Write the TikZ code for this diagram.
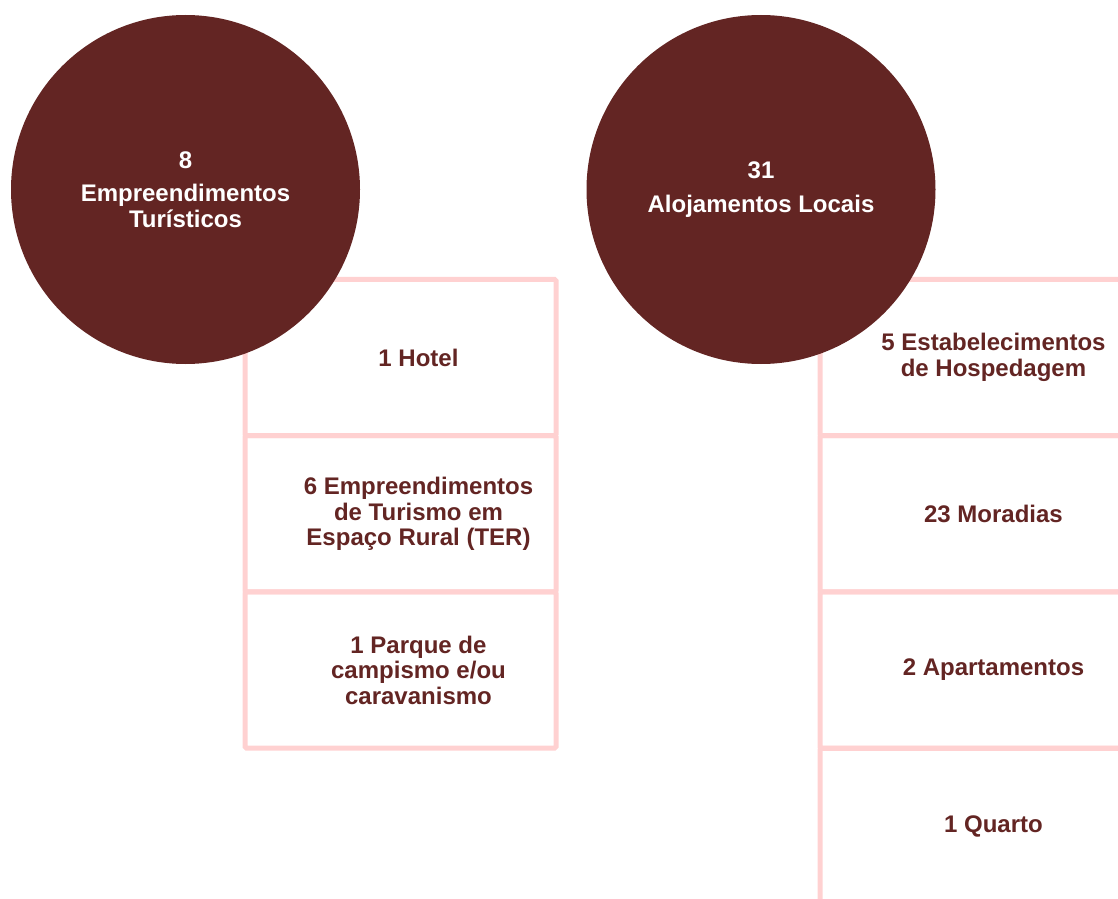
\documentclass[tikz,border=0pt]{standalone}
\usepackage{fontspec}
\setmainfont{Liberation Sans}
\definecolor{mWine}{HTML}{632523}
\definecolor{mBlush}{HTML}{FFD1D1}
\usepackage{tikz}
\usetikzlibrary{positioning}
\tikzset{
 cellbox/.style={draw=mBlush, line width=3.75pt, rounded corners=1.2pt, minimum width=233.25pt, minimum height=117.2pt, inner sep=0pt},
 celltext/.style={align=center, font=\fontsize{18}{19.1}\selectfont\bfseries, text=mWine, inner sep=0pt},
 bubble/.style={circle, fill=mWine, minimum size=261.75pt, inner sep=0pt, align=center, font=\fontsize{18}{19.1}\selectfont\bfseries, text=white}
}
\newcommand{\tcell}[4]{%
 \node[cellbox] (#3) at (#1,#2) {};%
 \node[celltext] (#3t) at ([xshift=13.5pt]#3.center) {#4};}

\begin{document}
\begin{tikzpicture}[x=0.75pt,y=-0.75pt]
\useasboundingbox (0,0) rectangle (1118,899);
\clip (0,14) rectangle (1118,899);
% left column
\tcell{400.5}{357.5}{hot}{1 Hotel}
\tcell{400.5}{513.8}{ter}{6 Empreendimentos\\de Turismo em\\Espaço Rural (TER)}
\tcell{400.5}{670.1}{cam}{1 Parque de\\campismo e/ou\\caravanismo}
% right column
\tcell{975.5}{357.5}{hosp}{5 Estabelecimentos\\de Hospedagem}
\tcell{975.5}{513.8}{mor}{23 Moradias}
\tcell{975.5}{670.1}{apt}{2 Apartamentos}
\tcell{975.5}{826.4}{qrt}{1 Quarto}
% circles
\node[bubble] (et) at (185.5,189.5) {8\\[6pt]Empreendimentos\\Turísticos};
\node[bubble] (al) at (761,189.5) {31\\[6pt]Alojamentos Locais};
\end{tikzpicture}
\end{document}
